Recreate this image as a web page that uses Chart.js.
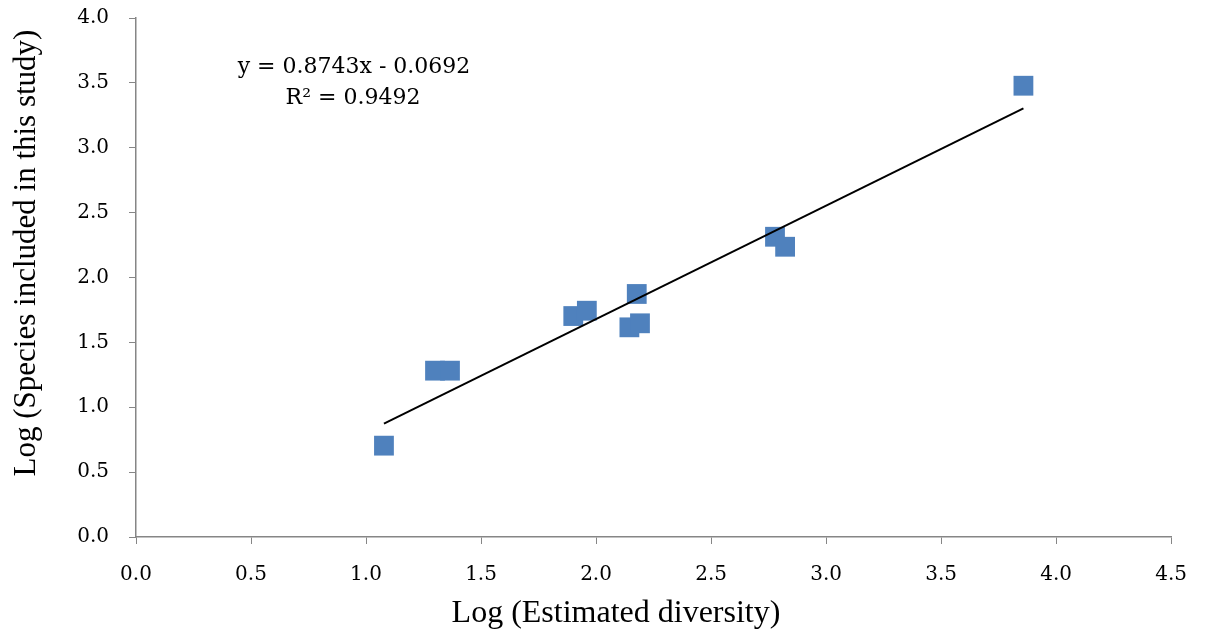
<!DOCTYPE html>
<html>
<head>
<meta charset="utf-8">
<script src="https://cdn.jsdelivr.net/npm/chart.js@4/dist/chart.umd.min.js"></script>
<style>
  body { margin: 0; background: #fff; }
  #wrap { width: 1206px; height: 637px; }
</style>
</head>
<body>
<div id="wrap"><canvas id="scatterChart" width="1206" height="637"></canvas></div>
<script>
// points
var logEstimated = [1.078, 1.300, 1.365, 1.901, 1.960, 2.177, 2.145, 2.191, 2.778, 2.822, 3.858];
var logIncluded  = [0.704, 1.282, 1.282, 1.703, 1.744, 1.873, 1.616, 1.647, 2.314, 2.237, 3.478];
var xTicks = [0, 0.5, 1, 1.5, 2, 2.5, 3, 3.5, 4, 4.5];
var yTicks = [0, 0.5, 1, 1.5, 2, 2.5, 3, 3.5, 4];

// trend line from the printed equation
var slope = 0.8743, intercept = -0.0692;
var eqText = "y = 0.8743x - 0.0692";
var r2Text = "R² = 0.9492";
var xTitle = "Log (Estimated diversity)";
var yTitle = "Log (Species included in this study)";

var points = logEstimated.map(function (x, i) { return { x: x, y: logIncluded[i] }; });
var xMin = Math.min.apply(null, logEstimated), xMax = Math.max.apply(null, logEstimated);
var trend = [
    { x: xMin, y: slope * xMin + intercept },
    { x: xMax, y: slope * xMax + intercept }
];

var serif = "'Liberation Serif', serif";
var tickSerif = "'DejaVu Serif', serif";
var axisGrey = "#868686";

// equation label and axis titles (Excel doesn't centre them on the plot area)
var extraText = {
    id: 'extraText',
    afterDraw: function (chart) {
        var ctx = chart.ctx;
        ctx.save();
        ctx.fillStyle = "#000";
        ctx.font = "22px " + tickSerif;
        ctx.textAlign = "center";
        ctx.textBaseline = "middle";
        ctx.fillText(eqText, 354, 67);
        ctx.fillText(r2Text, 353, 98);

        ctx.font = "32px " + serif;
        ctx.fillText(xTitle, 616, 614);

        ctx.translate(27, 253);
        ctx.rotate(-Math.PI / 2);
        ctx.font = "31px " + serif;
        ctx.fillText(yTitle, 0, 0);
        ctx.restore();
    }
};

var ctx = document.getElementById("scatterChart").getContext("2d");
var myChart = new Chart(ctx, {
    type: 'scatter',
    data: {
        datasets: [
            {
                data: points,
                pointStyle: 'rect',
                pointRadius: 14,
                pointHoverRadius: 14,
                backgroundColor: "#4F81BD",
                borderColor: "#4F81BD",
                borderWidth: 0,
                order: 2
            },
            {
                type: 'line',
                data: trend,
                borderColor: "#000",
                borderWidth: 2,
                pointRadius: 0,
                fill: false,
                order: 1
            }
        ]
    },
    options: {
        responsive: false,
        animation: false,
        layout: { padding: { left: 0, top: 18, right: 34, bottom: 0 } },
        plugins: { legend: { display: false }, tooltip: { enabled: false } },
        scales: {
            x: {
                type: 'linear',
                min: 0, max: 4.5,
                afterBuildTicks: function (scale) { scale.ticks = xTicks.map(function (v) { return { value: v }; }); },
                ticks: {
                    color: "#000",
                    font: { family: tickSerif, size: 20 },
                    padding: 19,
                    callback: function (v) { return Number(v).toFixed(1); }
                },
                grid: { drawOnChartArea: false, drawTicks: true, tickLength: 7, color: axisGrey },
                border: { color: axisGrey, width: 1.5 },
                title: { display: false },
                afterFit: function (scale) { scale.height = 100; }
            },
            y: {
                type: 'linear',
                min: 0, max: 4,
                afterBuildTicks: function (scale) { scale.ticks = yTicks.map(function (v) { return { value: v }; }); },
                ticks: {
                    color: "#000",
                    font: { family: tickSerif, size: 20 },
                    padding: 20,
                    callback: function (v) { return Number(v).toFixed(1); }
                },
                grid: { drawOnChartArea: false, drawTicks: true, tickLength: 7, color: axisGrey },
                border: { color: axisGrey, width: 1.5 },
                title: { display: false },
                afterFit: function (scale) {
                    scale.width = 136;
                    scale.paddingTop = 0;
                    scale.paddingBottom = 0;
                }
            }
        }
    },
    plugins: [extraText]
});
</script>
</body>
</html>
